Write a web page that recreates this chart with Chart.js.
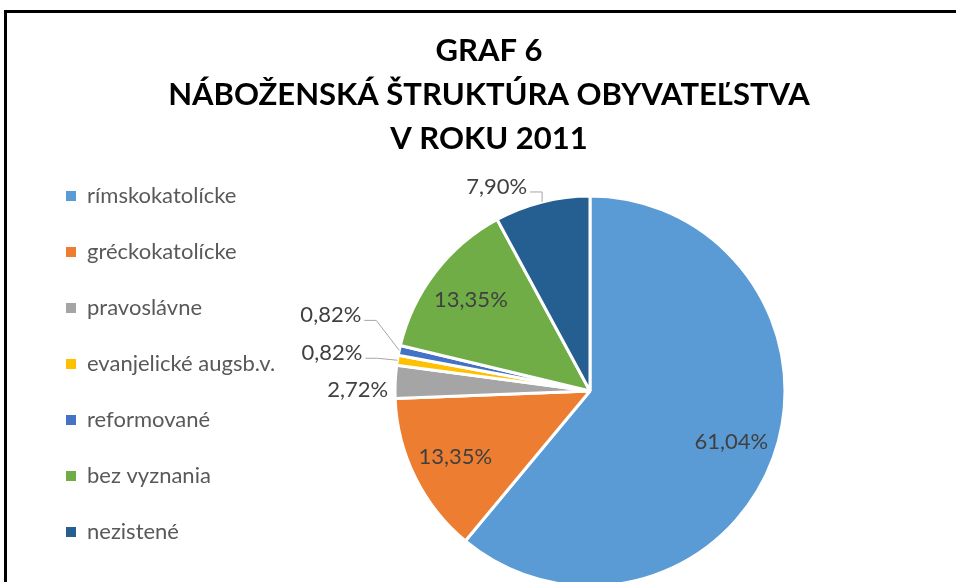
<!DOCTYPE html>
<html>
<head>
<meta charset="utf-8">
<script src="https://cdn.jsdelivr.net/npm/chart.js@4"></script>
<style>
  html, body { margin: 0; padding: 0; background: #fff; overflow: hidden; width: 956px; height: 582px; }
  #frame { position: absolute; left: 4px; top: 10px; width: 1000px; height: 700px; border-left: 3px solid #000; border-top: 3px solid #000; }
  #wrap { position: absolute; left: 7px; top: 13px; width: 964px; height: 620px; }
</style>
</head>
<body>
<div id="frame"></div>
<div id="wrap"><canvas id="pieChart"></canvas></div>
<script>
const titleLines = ["GRAF 6", "NÁBOŽENSKÁ ŠTRUKTÚRA OBYVATEĽSTVA", "V ROKU 2011"];
const categories = ["rímskokatolícke", "gréckokatolícke", "pravoslávne", "evanjelické augsb.v.", "reformované", "bez vyznania", "nezistené"];
const shares = [61.04, 13.35, 2.72, 0.82, 0.82, 13.35, 7.90];
const sliceColors = ["#5B9BD5", "#ED7D31", "#A5A5A5", "#FFC000", "#4472C4", "#70AD47", "#255E91"];

// outside labels: [dx, dy, leader] of the text's right end, relative to the slice's outer edge
const outsideLabels = [null, null, [-7, 8, false], [-35, -7, true], [-38, -35, true], null, [-15, -15, true]];

const fmt = v => v.toFixed(2).replace(".", ",") + "%";

const sliceLabels = {
    id: "sliceLabels",
    afterDatasetsDraw(chart) {
        const ctx = chart.ctx;
        const meta = chart.getDatasetMeta(0);
        ctx.save();
        ctx.font = "22px Lato";
        ctx.fillStyle = "#404040";
        ctx.textBaseline = "middle";
        meta.data.forEach((arc, i) => {
            const p = arc.getProps(["x", "y", "startAngle", "endAngle", "outerRadius"], true);
            const mid = (p.startAngle + p.endAngle) / 2;
            const txt = fmt(shares[i]);
            const out = outsideLabels[i];
            if (!out) {
                const r = p.outerRadius * 0.77;
                ctx.textAlign = "center";
                ctx.fillText(txt, p.x + Math.cos(mid) * r, p.y + Math.sin(mid) * r);
                return;
            }
            const ex = p.x + Math.cos(mid) * p.outerRadius;
            const ey = p.y + Math.sin(mid) * p.outerRadius;
            const tx = ex + out[0], ty = ey + out[1];
            ctx.textAlign = "right";
            ctx.fillText(txt, tx, ty);
            if (out[2]) {
                ctx.strokeStyle = "#a6a6a6";
                ctx.lineWidth = 1;
                ctx.beginPath();
                ctx.moveTo(tx + 3, ty + 5);
                ctx.lineTo(Math.min(tx + 15, ex), ty + 5);
                ctx.lineTo(ex, ey);
                ctx.stroke();
            }
        });
        ctx.restore();
    }
};

// empty box on the right so the pie sits right of the title's centre, like in Excel
const rightSpacer = {
    id: "rightSpacer",
    beforeInit(chart) {
        Chart.layouts.addBox(chart, {
            position: "right",
            weight: 0,
            fullSize: false,
            options: {},
            left: 0, top: 0, right: 0, bottom: 0, width: 0, height: 0,
            isHorizontal() { return false; },
            update(maxWidth, maxHeight) {
                this.width = Math.max(0, (chart.legend ? chart.legend.width : 0) - 202);
                this.height = maxHeight;
            },
            draw() {}
        });
    }
};

Chart.defaults.font.family = "Lato, 'Open Sans', sans-serif";
const baseLabels = Chart.overrides.pie.plugins.legend.labels.generateLabels;

new Chart(document.getElementById("pieChart").getContext("2d"), {
    type: "pie",
    data: {
        labels: categories,
        datasets: [{
            data: shares,
            backgroundColor: sliceColors,
            borderColor: "#ffffff",
            borderWidth: 3
        }]
    },
    options: {
        responsive: true,
        maintainAspectRatio: false,
        animation: false,
        radius: 195,
        layout: { padding: { left: 25, right: 25, top: 0, bottom: 2 } },
        plugins: {
            title: {
                display: true,
                text: titleLines,
                color: "#000000",
                font: { size: 31, weight: "bold", lineHeight: 44 / 31 },
                padding: { top: 16, bottom: -10 }
            },
            legend: {
                position: "left",
                align: "start",
                fullSize: false,
                maxWidth: 320,
                labels: {
                    boxWidth: 10,
                    boxHeight: 10,
                    padding: 34,
                    color: "#595959",
                    font: { size: 22 },
                    generateLabels(chart) {
                        return baseLabels(chart).map(item => Object.assign(item, { lineWidth: 0 }));
                    }
                }
            },
            tooltip: { enabled: false }
        }
    },
    plugins: [rightSpacer, sliceLabels]
});
</script>
</body>
</html>
